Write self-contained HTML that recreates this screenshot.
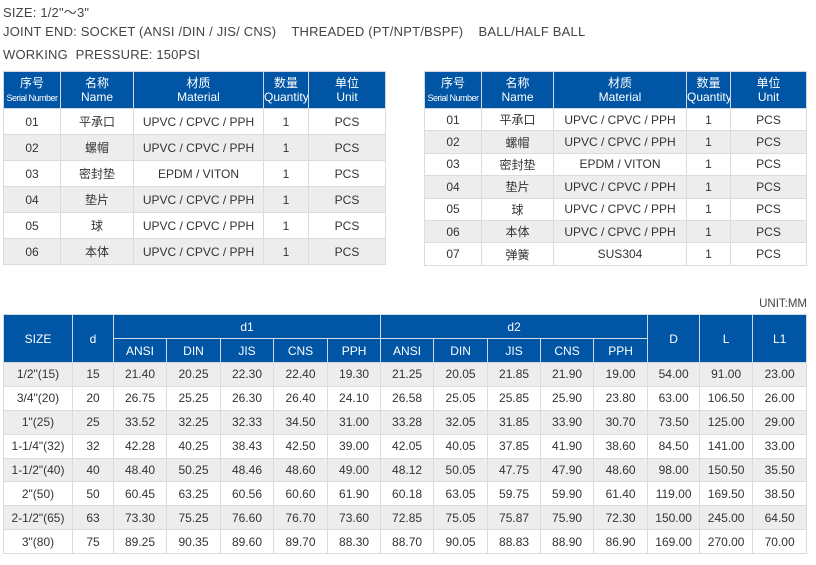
<!DOCTYPE html>
<html><head><meta charset="utf-8"><style>
body{margin:0;width:816px;height:565px;background:#fff;position:relative;overflow:hidden;font-family:"Liberation Sans","Noto Sans CJK SC",sans-serif;color:#333}
.t{position:absolute;left:3px;font-size:13px;color:#444;letter-spacing:0.2px;white-space:nowrap}
table{position:absolute;border-collapse:collapse;table-layout:fixed;font-size:12px}
td,th{border:1.5px solid #dcdcdc;text-align:center;padding:0;overflow:hidden;white-space:nowrap}
th{background:#0055a5;color:#fff;font-weight:normal;border-color:#d0d8e4;line-height:14px}
th small{font-size:9px;letter-spacing:-0.5px}
tr.g td{background:#ededed}
</style></head><body>
<div class="t" style="top:2px">SIZE: 1/2"～3"</div>
<div class="t" style="top:24px">JOINT END: SOCKET (ANSI /DIN / JIS/ CNS)&nbsp;&nbsp;&nbsp; THREADED (PT/NPT/BSPF)&nbsp;&nbsp;&nbsp; BALL/HALF BALL</div>
<div class="t" style="top:47px">WORKING&nbsp; PRESSURE: 150PSI</div>

<table style="left:3px;top:71px;width:382px">
<colgroup><col style="width:57px"><col style="width:73px"><col style="width:130px"><col style="width:45px"><col style="width:77px"></colgroup>
<tr style="height:37px"><th>序号<br><small>Serial Number</small></th><th>名称<br>Name</th><th>材质<br>Material</th><th>数量<br>Quantity</th><th>单位<br>Unit</th></tr>
<tr style="height:26px"><td>01</td><td>平承口</td><td>UPVC / CPVC / PPH</td><td>1</td><td>PCS</td></tr>
<tr class="g" style="height:26px"><td>02</td><td>螺帽</td><td>UPVC / CPVC / PPH</td><td>1</td><td>PCS</td></tr>
<tr style="height:26px"><td>03</td><td>密封垫</td><td>EPDM / VITON</td><td>1</td><td>PCS</td></tr>
<tr class="g" style="height:26px"><td>04</td><td>垫片</td><td>UPVC / CPVC / PPH</td><td>1</td><td>PCS</td></tr>
<tr style="height:26px"><td>05</td><td>球</td><td>UPVC / CPVC / PPH</td><td>1</td><td>PCS</td></tr>
<tr class="g" style="height:26px"><td>06</td><td>本体</td><td>UPVC / CPVC / PPH</td><td>1</td><td>PCS</td></tr>
</table>

<table style="left:424px;top:71px;width:382px">
<colgroup><col style="width:57px"><col style="width:72px"><col style="width:133px"><col style="width:44px"><col style="width:76px"></colgroup>
<tr style="height:37px"><th>序号<br><small>Serial Number</small></th><th>名称<br>Name</th><th>材质<br>Material</th><th>数量<br>Quantity</th><th>单位<br>Unit</th></tr>
<tr style="height:22.4px"><td>01</td><td>平承口</td><td>UPVC / CPVC / PPH</td><td>1</td><td>PCS</td></tr>
<tr class="g" style="height:22.4px"><td>02</td><td>螺帽</td><td>UPVC / CPVC / PPH</td><td>1</td><td>PCS</td></tr>
<tr style="height:22.4px"><td>03</td><td>密封垫</td><td>EPDM / VITON</td><td>1</td><td>PCS</td></tr>
<tr class="g" style="height:22.4px"><td>04</td><td>垫片</td><td>UPVC / CPVC / PPH</td><td>1</td><td>PCS</td></tr>
<tr style="height:22.4px"><td>05</td><td>球</td><td>UPVC / CPVC / PPH</td><td>1</td><td>PCS</td></tr>
<tr class="g" style="height:22.4px"><td>06</td><td>本体</td><td>UPVC / CPVC / PPH</td><td>1</td><td>PCS</td></tr>
<tr style="height:22.4px"><td>07</td><td>弹簧</td><td>SUS304</td><td>1</td><td>PCS</td></tr>
</table>

<div style="position:absolute;right:9px;top:298px;font-size:11.5px;color:#444">UNIT:MM</div>

<table style="left:3px;top:314px;width:803px;font-size:12px">
<colgroup><col style="width:69px"><col style="width:41px"><col style="width:53px"><col style="width:54px"><col style="width:53px"><col style="width:54px"><col style="width:53px"><col style="width:53px"><col style="width:54px"><col style="width:53px"><col style="width:53px"><col style="width:54px"><col style="width:52px"><col style="width:53px"><col style="width:54px"></colgroup>
<tr style="height:24px"><th rowspan="2">SIZE</th><th rowspan="2">d</th><th colspan="5">d1</th><th colspan="5">d2</th><th rowspan="2">D</th><th rowspan="2">L</th><th rowspan="2">L1</th></tr>
<tr style="height:24px"><th>ANSI</th><th>DIN</th><th>JIS</th><th>CNS</th><th>PPH</th><th>ANSI</th><th>DIN</th><th>JIS</th><th>CNS</th><th>PPH</th></tr>
<tr class="g" style="height:23.9px"><td>1/2"(15)</td><td>15</td><td>21.40</td><td>20.25</td><td>22.30</td><td>22.40</td><td>19.30</td><td>21.25</td><td>20.05</td><td>21.85</td><td>21.90</td><td>19.00</td><td>54.00</td><td>91.00</td><td>23.00</td></tr>
<tr style="height:23.9px"><td>3/4"(20)</td><td>20</td><td>26.75</td><td>25.25</td><td>26.30</td><td>26.40</td><td>24.10</td><td>26.58</td><td>25.05</td><td>25.85</td><td>25.90</td><td>23.80</td><td>63.00</td><td>106.50</td><td>26.00</td></tr>
<tr class="g" style="height:23.9px"><td>1"(25)</td><td>25</td><td>33.52</td><td>32.25</td><td>32.33</td><td>34.50</td><td>31.00</td><td>33.28</td><td>32.05</td><td>31.85</td><td>33.90</td><td>30.70</td><td>73.50</td><td>125.00</td><td>29.00</td></tr>
<tr style="height:23.9px"><td>1-1/4"(32)</td><td>32</td><td>42.28</td><td>40.25</td><td>38.43</td><td>42.50</td><td>39.00</td><td>42.05</td><td>40.05</td><td>37.85</td><td>41.90</td><td>38.60</td><td>84.50</td><td>141.00</td><td>33.00</td></tr>
<tr class="g" style="height:23.9px"><td>1-1/2"(40)</td><td>40</td><td>48.40</td><td>50.25</td><td>48.46</td><td>48.60</td><td>49.00</td><td>48.12</td><td>50.05</td><td>47.75</td><td>47.90</td><td>48.60</td><td>98.00</td><td>150.50</td><td>35.50</td></tr>
<tr style="height:23.9px"><td>2"(50)</td><td>50</td><td>60.45</td><td>63.25</td><td>60.56</td><td>60.60</td><td>61.90</td><td>60.18</td><td>63.05</td><td>59.75</td><td>59.90</td><td>61.40</td><td>119.00</td><td>169.50</td><td>38.50</td></tr>
<tr class="g" style="height:23.9px"><td>2-1/2"(65)</td><td>63</td><td>73.30</td><td>75.25</td><td>76.60</td><td>76.70</td><td>73.60</td><td>72.85</td><td>75.05</td><td>75.87</td><td>75.90</td><td>72.30</td><td>150.00</td><td>245.00</td><td>64.50</td></tr>
<tr style="height:23.9px"><td>3"(80)</td><td>75</td><td>89.25</td><td>90.35</td><td>89.60</td><td>89.70</td><td>88.30</td><td>88.70</td><td>90.05</td><td>88.83</td><td>88.90</td><td>86.90</td><td>169.00</td><td>270.00</td><td>70.00</td></tr>
</table>
</body></html>
